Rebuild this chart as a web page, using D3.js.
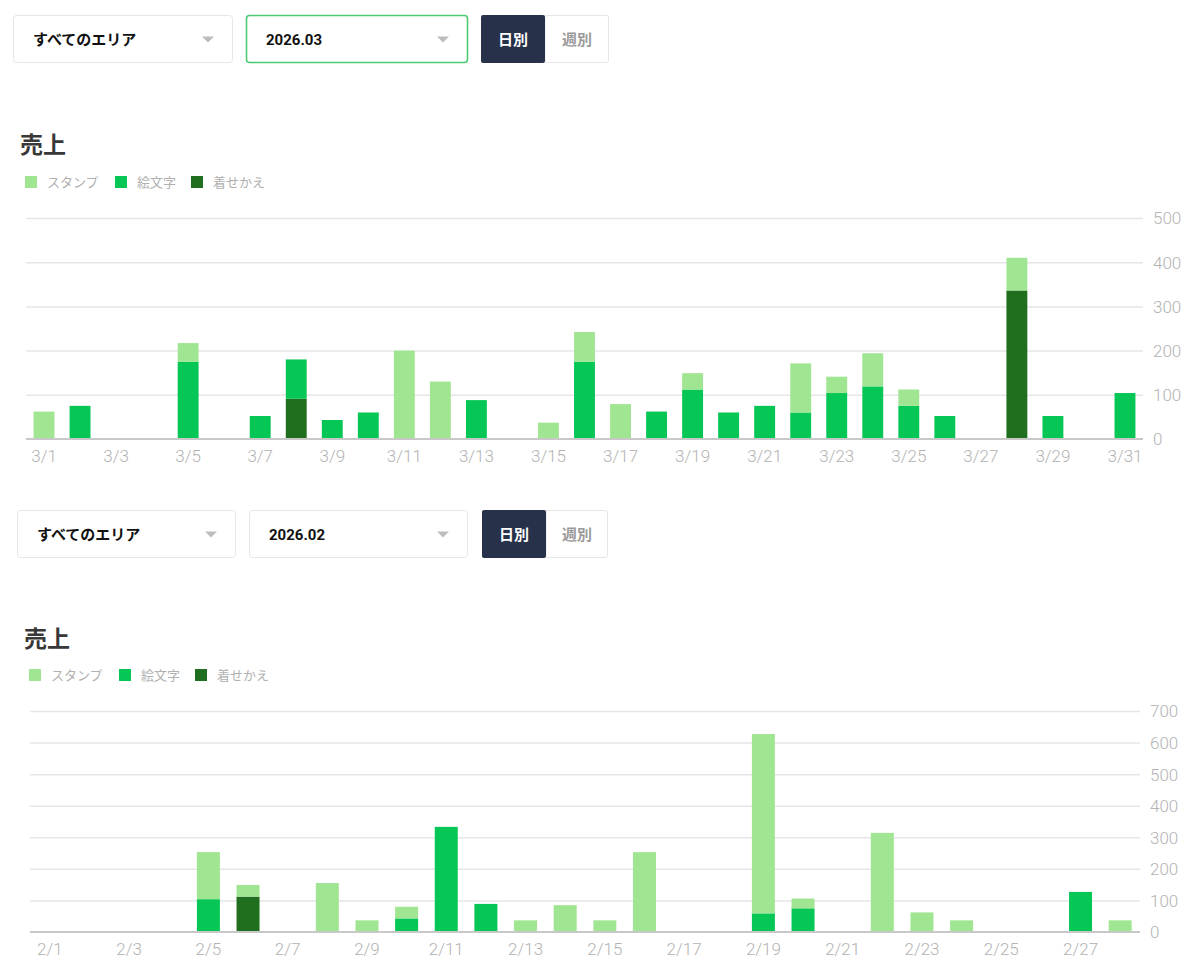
<!DOCTYPE html>
<html>
<head>
<meta charset="utf-8">
<script src="https://cdn.jsdelivr.net/npm/d3@7"></script>
<style>
  body { margin: 0; background: #fff; }
  svg text { font-family: Roboto, "Noto Sans CJK JP", sans-serif; }
  .tick line { stroke: #e6e6e6; stroke-width: 1.5; }
  .axis-y .domain, .grid .domain { display: none; }
  .axis-x .domain { stroke: #c8c8c8; stroke-width: 2; }
  .axis-x text, .axis-y text { fill: #b3b3b3; font-size: 17px; font-weight: 300; }
</style>
</head>
<body>
<svg id="chart" width="1200" height="974"></svg>
<script>
// categories
const seriesKeys = ["kisekae", "emoji", "stamp"];
const legendNames = ["スタンプ", "絵文字", "着せかえ"];
const legendKeys = ["stamp", "emoji", "kisekae"];

// March 2026
const marchDays = d3.range(1, 32).map(d => "3/" + d);
const marchStamp =   [62, 0, 0, 0, 42, 0, 0, 0, 0, 0, 200, 130, 0, 0, 37, 67, 79, 0, 37, 0, 0, 111, 37, 75, 37, 0, 0, 74, 0, 0, 0];
const marchEmoji =   [0, 75, 0, 0, 175, 0, 52, 89, 43, 60, 0, 0, 88, 0, 0, 175, 0, 62, 112, 60, 75, 60, 104, 119, 75, 52, 0, 0, 52, 0, 104];
const marchKisekae = [0, 0, 0, 0, 0, 0, 0, 91, 0, 0, 0, 0, 0, 0, 0, 0, 0, 0, 0, 0, 0, 0, 0, 0, 0, 0, 0, 336, 0, 0, 0];
const marchTicks = [0, 100, 200, 300, 400, 500];

// February 2026
const febDays = d3.range(1, 29).map(d => "2/" + d);
const febStamp =   [0, 0, 0, 0, 149, 37, 0, 155, 37, 37, 0, 0, 37, 85, 37, 253, 0, 0, 568, 31, 0, 314, 62, 37, 0, 0, 0, 37];
const febEmoji =   [0, 0, 0, 0, 104, 0, 0, 0, 0, 43, 333, 89, 0, 0, 0, 0, 0, 0, 59, 75, 0, 0, 0, 0, 0, 0, 127, 0];
const febKisekae = [0, 0, 0, 0, 0, 112, 0, 0, 0, 0, 0, 0, 0, 0, 0, 0, 0, 0, 0, 0, 0, 0, 0, 0, 0, 0, 0, 0];
const febTicks = [0, 100, 200, 300, 400, 500, 600, 700];

var color = d3.scaleOrdinal()
    .domain(["stamp", "emoji", "kisekae"])
    .range(["#a0e692", "#06c755", "#1f6f1f"]);

var svg = d3.select("#chart");

var sections = [
    {
        month: "2026.03", days: marchDays, stamp: marchStamp, emoji: marchEmoji, kisekae: marchKisekae, ticks: marchTicks,
        ox: 0, ctrlY: 15, sel1: [13, 233], sel2: [246, 468], sel2Active: true, tog: [481, 545, 609],
        titleY: 145, legendY: 182, x: [26, 1143], y: [218, 439]
    },
    {
        month: "2026.02", days: febDays, stamp: febStamp, emoji: febEmoji, kisekae: febKisekae, ticks: febTicks,
        ox: 4, ctrlY: 510, sel1: [17, 236], sel2: [249, 468], sel2Active: false, tog: [482, 546, 608],
        titleY: 639, legendY: 675, x: [30, 1140], y: [711, 932]
    }
];

sections.forEach(s => {
    var g = svg.append("g");
    var h = 47;

    // select boxes
    [[s.sel1, "すべてのエリア", false], [s.sel2, s.month, s.sel2Active]].forEach(([r, label, active]) => {
        g.append("rect")
            .attr("x", r[0] + 0.5).attr("y", s.ctrlY + 0.5)
            .attr("width", r[1] - r[0] - 1).attr("height", h)
            .attr("rx", 3)
            .attr("fill", "#fff")
            .attr("stroke", active ? "#4ccb74" : "#e6e6e6")
            .attr("stroke-width", active ? 1.6 : 1);
        g.append("text")
            .attr("x", r[0] + 20).attr("y", s.ctrlY + h / 2 + 1)
            .attr("dy", "0.35em")
            .attr("font-size", 15).attr("font-weight", 700)
            .attr("fill", "#111")
            .text(label);
        var ax = r[1] - 25, ay = s.ctrlY + h / 2 - 2;
        g.append("path")
            .attr("d", `M${ax - 6},${ay} L${ax + 6},${ay} L${ax},${ay + 6} Z`)
            .attr("fill", "#bdbdbd");
    });

    // toggle
    g.append("rect")
        .attr("x", s.tog[1]).attr("y", s.ctrlY + 0.5)
        .attr("width", s.tog[2] - s.tog[1] - 0.5).attr("height", h)
        .attr("rx", 2)
        .attr("fill", "#fff").attr("stroke", "#e6e6e6");
    g.append("rect")
        .attr("x", s.tog[0]).attr("y", s.ctrlY)
        .attr("width", s.tog[1] - s.tog[0]).attr("height", h + 1)
        .attr("rx", 2)
        .attr("fill", "#27324a");
    g.append("text")
        .attr("x", (s.tog[0] + s.tog[1]) / 2).attr("y", s.ctrlY + h / 2 + 1)
        .attr("dy", "0.35em").attr("text-anchor", "middle")
        .attr("font-size", 15).attr("font-weight", 700).attr("fill", "#fff")
        .text("日別");
    g.append("text")
        .attr("x", (s.tog[1] + s.tog[2]) / 2).attr("y", s.ctrlY + h / 2 + 1)
        .attr("dy", "0.35em").attr("text-anchor", "middle")
        .attr("font-size", 15).attr("font-weight", 700).attr("fill", "#9a9a9a")
        .text("週別");

    // title
    g.append("text")
        .attr("x", 20 + s.ox).attr("y", s.titleY)
        .attr("dy", "0.35em")
        .attr("font-size", 23).attr("font-weight", 700).attr("fill", "#383838")
        .style("font-family", "'Noto Sans CJK JP', sans-serif")
        .text("売上");

    // legend
    var lx = [25, 115, 191];
    var legend = g.selectAll(".legend")
        .data(legendKeys)
        .enter()
        .append("g")
        .attr("transform", (d, i) => `translate(${lx[i] + s.ox},${s.legendY})`);
    legend.append("rect")
        .attr("x", 0).attr("y", -6)
        .attr("width", 12).attr("height", 12)
        .attr("fill", d => color(d));
    legend.append("text")
        .attr("x", 22).attr("y", 0).attr("dy", "0.35em")
        .attr("font-size", 13).attr("fill", "#b0b0b0")
        .style("font-family", "'Noto Sans CJK JP', sans-serif")
        .text((d, i) => legendNames[i]);

    // chart
    var rows = s.days.map((d, i) => ({ day: d, stamp: s.stamp[i], emoji: s.emoji[i], kisekae: s.kisekae[i] }));
    var stacked = d3.stack().keys(seriesKeys)(rows);

    var xScale = d3.scaleBand()
        .domain(s.days)
        .range(s.x)
        .paddingInner(0.42)
        .paddingOuter(0.21);

    var yScale = d3.scaleLinear()
        .domain([0, d3.max(s.ticks)])
        .range([s.y[1], s.y[0]]);

    g.append("g")
        .attr("class", "grid")
        .attr("transform", `translate(${s.x[1]},0)`)
        .call(d3.axisLeft(yScale).tickValues(s.ticks.slice(1)).tickSize(s.x[1] - s.x[0]).tickFormat(""));

    g.append("g")
        .attr("class", "axis-y")
        .attr("transform", `translate(${s.x[1]},0)`)
        .call(d3.axisRight(yScale).tickValues(s.ticks).tickSize(0).tickPadding(10))
        .selectAll("text").attr("dy", "0.35em");

    g.selectAll(".series")
        .data(stacked)
        .enter()
        .append("g")
        .attr("fill", d => color(d.key))
        .selectAll("rect")
        .data(d => d.filter(p => p[1] > p[0]))
        .enter()
        .append("rect")
        .attr("x", d => xScale(d.data.day))
        .attr("y", d => yScale(d[1]))
        .attr("width", xScale.bandwidth())
        .attr("height", d => yScale(d[0]) - yScale(d[1]));

    g.append("g")
        .attr("class", "axis-x")
        .attr("transform", `translate(0,${s.y[1]})`)
        .call(d3.axisBottom(xScale).tickValues(s.days.filter((d, i) => i % 2 === 0)).tickSize(0).tickPadding(11))
        .call(a => a.select(".domain").attr("d", `M${s.x[0]},0H${s.x[1]}`));
});
</script>
</body>
</html>
